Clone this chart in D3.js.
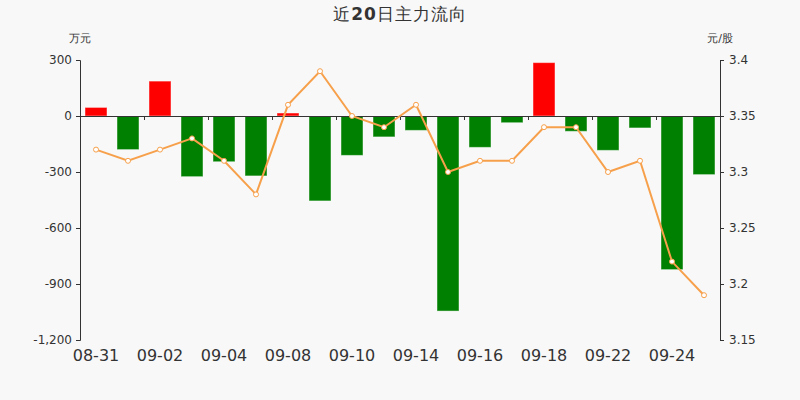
<!DOCTYPE html>
<html>
<head>
<meta charset="utf-8">
<script src="https://cdn.jsdelivr.net/npm/d3@7"></script>
<style>
  html, body { margin: 0; padding: 0; background: #f8f8f8; }
  svg { display: block; font-family: "DejaVu Sans", sans-serif; }
</style>
</head>
<body>
<div id="chart"></div>
<script>
// Data
const dates = ["08-31", "09-01", "09-02", "09-03", "09-04", "09-07", "09-08", "09-09", "09-10", "09-11",
               "09-14", "09-15", "09-16", "09-17", "09-18", "09-21", "09-22", "09-23", "09-24", "09-25"];
const flows = [46, -180, 187, -325, -245, -321, 16, -455, -211, -112,
               -77, -1045, -168, -36, 286, -82, -184, -64, -823, -314];
const prices = [3.32, 3.31, 3.32, 3.33, 3.31, 3.28, 3.36, 3.39, 3.35, 3.34,
                3.36, 3.30, 3.31, 3.31, 3.34, 3.34, 3.30, 3.31, 3.22, 3.19];
const leftTicks = [300, 0, -300, -600, -900, -1200];
const rightTicks = [3.4, 3.35, 3.3, 3.25, 3.2, 3.15];

const width = 800, height = 400;
const margin = { top: 60, right: 80, bottom: 60, left: 80 };

const svg = d3.select("#chart").append("svg")
  .attr("width", width)
  .attr("height", height);

svg.append("rect").attr("width", width).attr("height", height).attr("fill", "#f8f8f8");

const x = d3.scaleBand()
  .domain(dates)
  .range([margin.left, width - margin.right])
  .paddingInner(0.3125)
  .paddingOuter(0.15625);

const yL = d3.scaleLinear().domain([-1200, 300]).range([height - margin.bottom, margin.top]);
const yR = d3.scaleLinear().domain([3.15, 3.4]).range([height - margin.bottom, margin.top]);

// plain hyphen for negatives, like the original
const fmtFlow = d => d3.format(",")(d).replace("\u2212", "-");

// title
const title = svg.append("text")
  .attr("x", width / 2)
  .attr("y", 20)
  .attr("text-anchor", "middle")
  .attr("fill", "#333")
  .style("font-size", "17px")
  .style("letter-spacing", "1px");
title.append("tspan").text("近");
title.append("tspan").style("font-weight", "bold").text("20");
title.append("tspan").text("日主力流向");

// unit labels
svg.append("text")
  .attr("x", margin.left).attr("y", 42)
  .attr("text-anchor", "middle")
  .attr("fill", "#333")
  .style("font-size", "11px")
  .text("万元");
svg.append("text")
  .attr("x", width - margin.right).attr("y", 42)
  .attr("text-anchor", "middle")
  .attr("fill", "#333")
  .style("font-size", "11px")
  .text("元/股");

// bars
svg.selectAll(".bar")
  .data(flows)
  .join("rect")
  .attr("class", "bar")
  .attr("x", (d, i) => x(dates[i]))
  .attr("y", d => yL(Math.max(d, 0)))
  .attr("width", x.bandwidth())
  .attr("height", d => Math.abs(yL(d) - yL(0)))
  .attr("fill", d => d >= 0 ? "#ff0000" : "#008000")
  .attr("stroke", "rgba(255,255,255,0.45)")
  .attr("stroke-width", 1);

// left axis
const leftAxis = svg.append("g")
  .attr("transform", `translate(${margin.left},0)`)
  .call(d3.axisLeft(yL).tickValues(leftTicks).tickSize(4).tickPadding(4).tickFormat(fmtFlow));
leftAxis.select(".domain").attr("stroke", "#333");
leftAxis.selectAll(".tick line").attr("stroke", "#333");
leftAxis.selectAll("text").attr("fill", "#333").style("font-size", "12px").style("font-family", "DejaVu Sans");

// right axis
const rightAxis = svg.append("g")
  .attr("transform", `translate(${width - margin.right},0)`)
  .call(d3.axisRight(yR).tickValues(rightTicks).tickSize(4).tickPadding(5).tickFormat(d => String(d)));
rightAxis.select(".domain").attr("stroke", "#333");
rightAxis.selectAll(".tick line").attr("stroke", "#333");
rightAxis.selectAll("text").attr("fill", "#333").style("font-size", "12px").style("font-family", "DejaVu Sans");

// zero line with ticks between every second day
const step = x.step();
const tickPos = d3.range(0, dates.length + 1, 2).map(i => margin.left + i * step);
const xZero = d3.scaleLinear().domain([margin.left, width - margin.right]).range([margin.left, width - margin.right]);
const zeroAxis = svg.append("g")
  .attr("transform", `translate(0,${yL(0)})`)
  .call(d3.axisBottom(xZero).tickValues(tickPos).tickSize(4).tickSizeOuter(0).tickFormat(""));
zeroAxis.select(".domain").attr("stroke", "#333");
zeroAxis.selectAll(".tick line").attr("stroke", "#333");

// date labels along the bottom
svg.selectAll(".date-label")
  .data(dates.filter((d, i) => i % 2 === 0))
  .join("text")
  .attr("class", "date-label")
  .attr("x", d => x(d) + x.bandwidth() / 2)
  .attr("y", height - margin.bottom + 21)
  .attr("text-anchor", "middle")
  .attr("fill", "#333")
  .style("font-size", "16px")
  .text(d => d);

// price line
const line = d3.line()
  .x((d, i) => x(dates[i]) + x.bandwidth() / 2)
  .y(d => yR(d));

svg.append("path")
  .datum(prices)
  .attr("fill", "none")
  .attr("stroke", "#f7a04b")
  .attr("stroke-width", 2)
  .attr("d", line);

svg.selectAll(".dot")
  .data(prices)
  .join("circle")
  .attr("class", "dot")
  .attr("cx", (d, i) => x(dates[i]) + x.bandwidth() / 2)
  .attr("cy", d => yR(d))
  .attr("r", 2.5)
  .attr("fill", "#fff")
  .attr("stroke", "#f7a04b")
  .attr("stroke-width", 1);
</script>
</body>
</html>
